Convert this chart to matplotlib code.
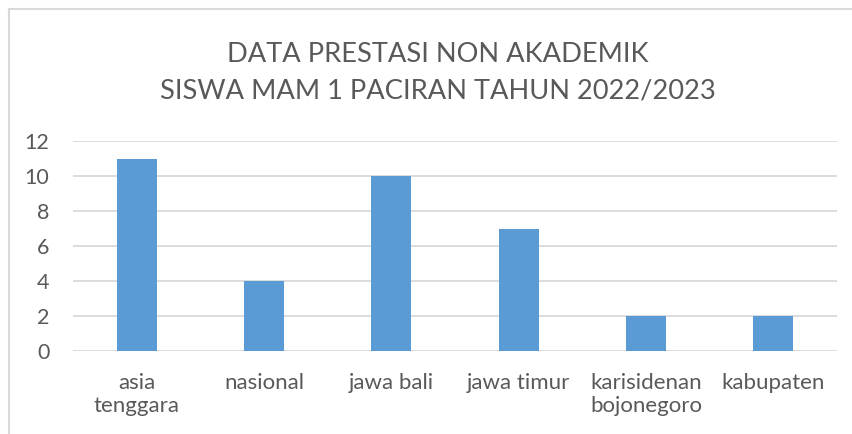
import matplotlib
matplotlib.use("Agg")
import matplotlib.pyplot as plt
from matplotlib.lines import Line2D

categories = ["asia\ntenggara", "nasional", "jawa bali", "jawa timur", "karisidenan\nbojonegoro", "kabupaten"]
values = [11, 4, 10, 7, 2, 2]
yticks = [0, 2, 4, 6, 8, 10, 12]
title = "DATA PRESTASI NON AKADEMIK\nSISWA MAM 1 PACIRAN TAHUN 2022/2023"

W, H = 853, 434
fig = plt.figure(figsize=(W / 100, H / 100), dpi=100)
plt.rcParams['font.family'] = ['Lato', 'DejaVu Sans']
txt = "#595959"
grid = "#d9d9d9"

ax = fig.add_axes([73 / W, 1 - 351 / H, (837 - 73) / W, (351 - 141) / H])
x = range(len(categories))
ax.bar(x, values, width=0.314, color="#5b9bd5", zorder=3)
ax.set_xlim(-0.5, len(categories) - 0.5)
ax.set_ylim(0, 12)
ax.set_yticks(yticks)
ax.set_yticklabels([str(v) for v in yticks], fontsize=15.5, color=txt)
ax.set_xticks(list(x))
ax.set_xticklabels(categories, fontsize=16, color=txt, linespacing=1.15)
ax.tick_params(axis='both', length=0)
ax.tick_params(axis='x', pad=16)
ax.tick_params(axis='y', pad=17)
for s in ax.spines.values():
    s.set_visible(False)
ax.yaxis.grid(True, color=grid, linewidth=1.3, zorder=0)
ax.set_axisbelow(True)

fig.text(438 / W, 1 - 72.5 / H, title, ha='center', va='center', fontsize=19.6,
         color=txt, linespacing=1.55)

# chart area border (top and left visible)
fig.add_artist(Line2D([9 / W, 1], [1 - 9 / H, 1 - 9 / H], color=grid, linewidth=1.5, transform=fig.transFigure))
fig.add_artist(Line2D([9 / W, 9 / W], [1 - 9 / H, 0], color=grid, linewidth=1.5, transform=fig.transFigure))

fig.savefig("out.png", dpi=100, facecolor="white")
